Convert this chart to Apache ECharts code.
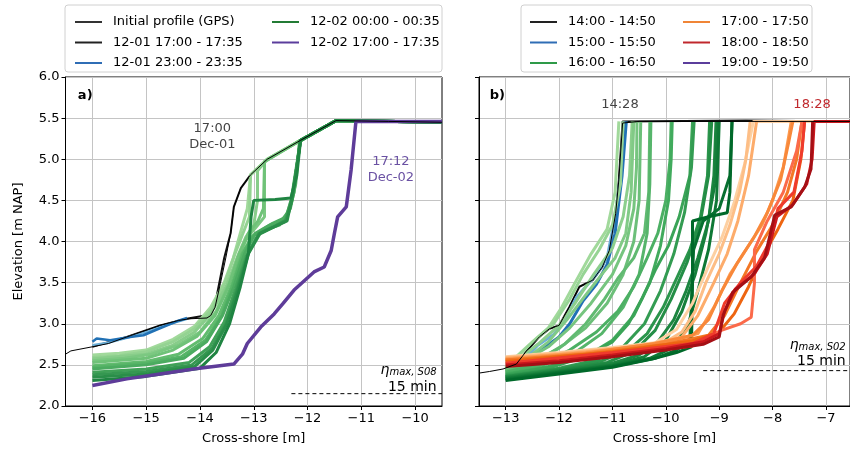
<!DOCTYPE html>
<html>
<head>
<meta charset="utf-8">
<script src="https://cdn.jsdelivr.net/npm/echarts@6/dist/echarts.min.js"></script>
<style>
html, body { margin: 0; padding: 0; background: #fff; }
#chart { width: 850px; height: 450px; }
</style>
</head>
<body>
<div id="chart"></div>
<script>
// ---- data ----
const yTicks = [2.0, 2.5, 3.0, 3.5, 4.0, 4.5, 5.0, 5.5, 6.0]
const xTicksA = [-16, -15, -14, -13, -12, -11, -10]
const xTicksB = [-13, -12, -11, -10, -9, -8, -7]

// panel a
const initialA = [[-16.5, 2.63], [-16.4, 2.67], [-16.0, 2.72], [-15.7, 2.76], [-15.36, 2.84], [-15.0, 2.92], [-14.74, 2.98], [-14.4, 3.04], [-14.2, 3.06], [-13.87, 3.07], [-13.8, 3.1], [-13.72, 3.2], [-13.62, 3.49], [-13.52, 3.8], [-13.43, 4.1], [-13.37, 4.42], [-13.24, 4.65], [-13.06, 4.81], [-12.75, 5.0], [-12.13, 5.23], [-11.47, 5.47], [-10.5, 5.46], [-9.5, 5.45]]
const dec01_1700 = [[-16, 2.72], [-15.36, 2.84], [-14.74, 2.98], [-14.25, 3.06], [-13.9, 3.1], [-13.7, 3.3], [-13.55, 3.8], [-13.43, 4.1], [-13.37, 4.42], [-13.24, 4.65], [-13.06, 4.81], [-12.75, 5.0], [-12.13, 5.23], [-11.47, 5.47], [-9.5, 5.45]]
const dec01_2300 = [
  [[-16, 2.74], [-15.7, 2.77], [-15.36, 2.83], [-15.0, 2.9], [-14.6, 2.99], [-14.24, 3.06]],
  [[-16, 2.78], [-15.92, 2.82], [-15.67, 2.8], [-15.3, 2.84], [-15.05, 2.86], [-14.8, 2.93], [-14.43, 3.03], [-14.24, 3.07]]
]
const dec02_0000 = [
  [[-16, 2.62], [-15.5, 2.64], [-15, 2.68], [-14.5, 2.81], [-14.1, 2.97], [-13.8, 3.2], [-13.55, 3.5], [-13.38, 3.8], [-13.25, 4.1], [-13.12, 4.4], [-13.06, 4.81], [-12.75, 5.0], [-12.13, 5.23], [-11.47, 5.47], [-9.5, 5.45]],
  [[-16, 2.59], [-15.5, 2.61], [-15, 2.66], [-14.5, 2.78], [-14.1, 2.94], [-13.78, 3.18], [-13.52, 3.52], [-13.35, 3.85], [-13.2, 4.1], [-13.08, 4.3], [-13.06, 4.81], [-12.75, 5.0], [-12.13, 5.23], [-11.47, 5.47], [-9.5, 5.45]],
  [[-16, 2.57], [-15, 2.63], [-14.5, 2.74], [-14.1, 2.9], [-13.8, 3.12], [-13.5, 3.47], [-13.3, 3.82], [-13.15, 4.05], [-13.0, 4.2], [-12.93, 4.5], [-12.93, 4.86], [-12.75, 5.0], [-12.13, 5.23], [-11.47, 5.47], [-9.5, 5.45]],
  [[-16, 2.55], [-15.4, 2.58], [-14.9, 2.63], [-14.4, 2.74], [-14.0, 2.9], [-13.7, 3.15], [-13.45, 3.5], [-13.28, 3.82], [-13.12, 4.05], [-12.95, 4.18], [-12.8, 4.3], [-12.8, 4.97], [-12.13, 5.23], [-11.47, 5.47], [-9.5, 5.45]],
  [[-16, 2.53], [-15, 2.58], [-14.5, 2.68], [-14.05, 2.85], [-13.72, 3.1], [-13.47, 3.45], [-13.27, 3.85], [-13.1, 4.1], [-12.92, 4.25], [-12.82, 4.4], [-12.8, 4.97], [-12.13, 5.23], [-11.47, 5.47], [-9.5, 5.45]],
  [[-16, 2.49], [-15, 2.54], [-14.4, 2.63], [-13.95, 2.82], [-13.65, 3.1], [-13.42, 3.45], [-13.22, 3.85], [-13.02, 4.07], [-12.75, 4.15], [-12.52, 4.2], [-12.4, 4.3], [-12.3, 4.5], [-12.2, 4.9], [-12.13, 5.23], [-11.47, 5.47], [-9.5, 5.45]],
  [[-16, 2.47], [-15, 2.52], [-14.35, 2.6], [-13.9, 2.8], [-13.6, 3.1], [-13.4, 3.45], [-13.2, 3.85], [-13.0, 4.08], [-12.7, 4.2], [-12.5, 4.25], [-12.35, 4.35], [-12.25, 4.6], [-12.14, 5.22], [-11.47, 5.47], [-9.5, 5.45]],
  [[-16, 2.45], [-15, 2.5], [-14.3, 2.58], [-13.88, 2.78], [-13.58, 3.1], [-13.37, 3.45], [-13.17, 3.85], [-12.97, 4.1], [-12.65, 4.22], [-12.45, 4.28], [-12.32, 4.4], [-12.22, 4.7], [-12.15, 5.22], [-11.47, 5.47], [-9.5, 5.45]],
  [[-16, 2.41], [-15, 2.45], [-14.2, 2.53], [-13.82, 2.72], [-13.55, 3.02], [-13.34, 3.42], [-13.14, 3.82], [-12.92, 4.08], [-12.62, 4.18], [-12.42, 4.24], [-12.3, 4.52], [-12.13, 5.23], [-11.47, 5.47], [-9.5, 5.45]],
  [[-16, 2.38], [-15, 2.42], [-14.15, 2.5], [-13.78, 2.7], [-13.52, 3.0], [-13.32, 3.4], [-13.12, 3.83], [-12.9, 4.1], [-12.58, 4.2], [-12.4, 4.26], [-12.29, 4.5], [-12.13, 5.23], [-11.47, 5.47], [-9.5, 5.45]],
  [[-16, 2.35], [-15, 2.39], [-14.1, 2.48], [-13.76, 2.68], [-13.5, 3.0], [-13.3, 3.4], [-13.1, 3.85], [-12.88, 4.1], [-12.55, 4.2], [-12.38, 4.25], [-12.28, 4.55], [-12.13, 5.23], [-11.47, 5.47], [-9.5, 5.45]],
  [[-16, 2.31], [-15, 2.36], [-14, 2.46], [-13.7, 2.65], [-13.45, 3.0], [-13.25, 3.45], [-13.1, 3.85], [-13.05, 4.3], [-13.0, 4.5], [-12.6, 4.51], [-12.31, 4.53], [-12.2, 4.8], [-12.13, 5.23], [-11.47, 5.47], [-9.5, 5.45]]
]
const dec02_1700 = [[-16, 2.25], [-15.36, 2.33], [-14.74, 2.39], [-14.12, 2.45], [-13.37, 2.51], [-13.21, 2.63], [-13.12, 2.76], [-12.87, 2.96], [-12.62, 3.12], [-12.45, 3.25], [-12.25, 3.41], [-11.88, 3.63], [-11.69, 3.69], [-11.56, 3.89], [-11.5, 4.1], [-11.44, 4.3], [-11.28, 4.42], [-11.19, 4.87], [-11.1, 5.46], [-9.5, 5.46]]
const etaA = [[-12.3, 2.15], [-9.5, 2.15]]

// panel b
const initialB = [[-13.5, 2.4], [-13.3, 2.42], [-13.05, 2.45], [-12.8, 2.51], [-12.61, 2.67], [-12.37, 2.84], [-12.18, 2.94], [-12.0, 2.98], [-11.81, 3.2], [-11.62, 3.45], [-11.37, 3.53], [-11.19, 3.69], [-11.06, 3.89], [-10.94, 4.34], [-10.88, 4.75], [-10.81, 5.44], [-10.5, 5.46], [-6.55, 5.46]]
const h14 = [[-13, 2.45], [-12.8, 2.52], [-12.6, 2.67], [-12.37, 2.84], [-12.18, 2.94], [-12.0, 2.98], [-11.81, 3.2], [-11.62, 3.45], [-11.37, 3.53], [-11.19, 3.69], [-11.06, 3.89], [-10.94, 4.34], [-10.88, 4.75], [-10.81, 5.46], [-8.5, 5.47], [-6.55, 5.46]]
const h15 = [
  [[-13, 2.46], [-12.6, 2.6], [-12.4, 2.74], [-12.1, 2.87], [-11.9, 3.03], [-11.7, 3.3], [-11.5, 3.45], [-11.3, 3.6], [-11.1, 3.8], [-10.95, 4.3], [-10.85, 4.8], [-10.78, 5.46]],
  [[-13, 2.44], [-12.5, 2.6], [-12.3, 2.7], [-12.0, 2.84], [-11.8, 3.0], [-11.55, 3.28], [-11.3, 3.48], [-11.1, 3.72], [-10.95, 4.1], [-10.82, 4.8], [-10.74, 5.46]]
]
const h16 = [
  [[-13, 2.47], [-12.8, 2.6], [-12.5, 2.78], [-12.2, 2.95], [-11.95, 3.2], [-11.7, 3.5], [-11.4, 3.85], [-11.1, 4.15], [-10.95, 4.6], [-10.88, 5.46]],
  [[-13, 2.46], [-12.75, 2.62], [-12.45, 2.8], [-12.1, 3.0], [-11.8, 3.3], [-11.55, 3.6], [-11.25, 3.9], [-11.0, 4.2], [-10.85, 4.7], [-10.8, 5.46]],
  [[-13, 2.45], [-12.7, 2.6], [-12.4, 2.75], [-12.0, 2.98], [-11.7, 3.25], [-11.35, 3.6], [-11.0, 3.92], [-10.8, 4.3], [-10.68, 4.8], [-10.63, 5.46]],
  [[-13, 2.44], [-12.6, 2.58], [-12.2, 2.78], [-11.85, 3.05], [-11.5, 3.35], [-11.2, 3.6], [-10.95, 3.8], [-10.75, 4.1], [-10.65, 4.6], [-10.6, 5.46]],
  [[-13, 2.43], [-12.6, 2.57], [-12.2, 2.72], [-11.8, 2.95], [-11.4, 3.25], [-11.0, 3.6], [-10.75, 3.95], [-10.6, 4.4], [-10.55, 4.9], [-10.54, 5.46]],
  [[-13, 2.42], [-12.5, 2.54], [-12.0, 2.7], [-11.5, 2.95], [-11.1, 3.25], [-10.8, 3.6], [-10.6, 4.0], [-10.5, 4.5], [-10.47, 5.46]],
  [[-13, 2.42], [-12.4, 2.55], [-11.9, 2.75], [-11.5, 3.0], [-11.15, 3.3], [-10.9, 3.55], [-10.6, 3.8], [-10.4, 4.1], [-10.32, 4.6], [-10.3, 5.46]],
  [[-13, 2.4], [-12.3, 2.5], [-11.7, 2.65], [-11.2, 2.88], [-10.8, 3.2], [-10.5, 3.6], [-10.35, 4.1], [-10.3, 4.7], [-10.28, 5.46]],
  [[-13, 2.41], [-12.3, 2.52], [-11.8, 2.68], [-11.3, 2.9], [-10.9, 3.15], [-10.6, 3.45], [-10.35, 3.8], [-10.15, 4.1], [-10.0, 4.5], [-9.92, 5.0], [-9.9, 5.46]],
  [[-13, 2.39], [-12.2, 2.48], [-11.5, 2.6], [-11.0, 2.8], [-10.6, 3.1], [-10.3, 3.5], [-10.1, 3.95], [-9.95, 4.5], [-9.9, 5.0], [-9.88, 5.46]],
  [[-13, 2.38], [-12.1, 2.48], [-11.5, 2.6], [-11.0, 2.78], [-10.7, 3.0], [-10.45, 3.3], [-10.2, 3.65], [-9.95, 3.95], [-9.75, 4.3], [-9.55, 4.8], [-9.5, 5.46]],
  [[-13, 2.37], [-12, 2.46], [-11.3, 2.56], [-10.8, 2.72], [-10.4, 3.0], [-10.1, 3.4], [-9.85, 3.85], [-9.65, 4.35], [-9.52, 4.9], [-9.47, 5.46]],
  [[-13, 2.36], [-12, 2.45], [-11.2, 2.55], [-10.7, 2.68], [-10.35, 2.88], [-10.05, 3.2], [-9.8, 3.55], [-9.55, 3.9], [-9.35, 4.3], [-9.22, 4.8], [-9.18, 5.46]],
  [[-13, 2.36], [-12, 2.44], [-11.1, 2.53], [-10.6, 2.66], [-10.2, 2.92], [-9.9, 3.3], [-9.6, 3.75], [-9.35, 4.25], [-9.2, 4.8], [-9.14, 5.46]],
  [[-13, 2.35], [-12, 2.43], [-11, 2.52], [-10.5, 2.62], [-10.15, 2.78], [-9.85, 3.05], [-9.62, 3.4], [-9.4, 3.8], [-9.2, 4.25], [-9.1, 4.8], [-9.06, 5.46]],
  [[-13, 2.34], [-12, 2.42], [-11, 2.5], [-10.4, 2.6], [-10.0, 2.8], [-9.7, 3.15], [-9.45, 3.6], [-9.25, 4.1], [-9.08, 4.7], [-9.03, 5.46]],
  [[-13, 2.33], [-12, 2.41], [-11, 2.49], [-10.3, 2.58], [-9.9, 2.7], [-9.6, 2.95], [-9.4, 3.4], [-9.2, 3.9], [-9.05, 4.5], [-9.0, 5.46]],
  [[-13, 2.32], [-12, 2.4], [-11, 2.48], [-10.2, 2.58], [-9.8, 2.68], [-9.55, 2.8], [-9.52, 3.3], [-9.48, 3.9], [-9.3, 4.25], [-9.0, 4.4], [-8.8, 4.8], [-8.76, 5.46]],
  [[-13, 2.31], [-12, 2.39], [-11, 2.47], [-10.26, 2.57], [-9.8, 2.65], [-9.52, 2.72], [-9.5, 3.5], [-9.5, 4.25], [-9.2, 4.3], [-8.85, 4.35], [-8.8, 4.6], [-8.76, 5.46]]
]
const h17 = [
  [[-13, 2.6], [-12, 2.65], [-11, 2.71], [-10.2, 2.77], [-9.8, 2.93], [-9.5, 3.25], [-9.2, 3.7], [-8.95, 4.05], [-8.72, 4.47], [-8.52, 4.95], [-8.36, 5.46], [-6.55, 5.46]],
  [[-13, 2.59], [-12, 2.64], [-10.8, 2.71], [-10.0, 2.78], [-9.7, 2.9], [-9.45, 3.15], [-9.25, 3.5], [-9.0, 3.85], [-8.8, 4.2], [-8.62, 4.6], [-8.5, 5.0], [-8.42, 5.46]],
  [[-13, 2.58], [-12, 2.63], [-10.5, 2.72], [-9.7, 2.84], [-9.4, 3.1], [-9.1, 3.5], [-8.85, 3.85], [-8.65, 4.25], [-8.45, 4.8], [-8.3, 5.46]],
  [[-13, 2.57], [-11.5, 2.65], [-10, 2.77], [-9.4, 2.88], [-9.1, 3.2], [-8.8, 3.6], [-8.5, 3.9], [-8.2, 4.2], [-8.0, 4.5], [-7.8, 4.9], [-7.65, 5.46]],
  [[-13, 2.56], [-11.5, 2.64], [-10.2, 2.76], [-9.5, 2.86], [-9.2, 3.05], [-8.95, 3.4], [-8.65, 3.75], [-8.35, 4.05], [-8.1, 4.35], [-7.85, 4.75], [-7.7, 5.2], [-7.62, 5.46]],
  [[-13, 2.56], [-11.5, 2.63], [-10, 2.75], [-9.2, 2.86], [-8.9, 3.1], [-8.6, 3.5], [-8.3, 3.88], [-8.0, 4.2], [-7.72, 4.6], [-7.55, 5.0], [-7.45, 5.46]],
  [[-13, 2.54], [-11, 2.66], [-9.5, 2.79], [-9.0, 2.9], [-8.72, 3.12], [-8.45, 3.45], [-8.2, 3.8], [-7.9, 4.15], [-7.62, 4.5], [-7.47, 5.0], [-7.4, 5.46]]
]
const h18 = [
  [[-13, 2.52], [-11, 2.62], [-9.5, 2.73], [-8.96, 2.92], [-8.6, 3.0], [-8.4, 3.08], [-8.34, 3.49], [-8.34, 3.9], [-8.1, 4.25], [-7.8, 4.6], [-7.55, 5.1], [-7.45, 5.46]],
  [[-13, 2.52], [-11, 2.65], [-9.5, 2.76], [-9.1, 2.88], [-8.9, 3.25], [-8.6, 3.5], [-8.3, 3.7], [-8.05, 4.0], [-7.9, 4.4], [-7.6, 4.6], [-7.45, 5.1], [-7.4, 5.46]],
  [[-13, 2.5], [-12, 2.55], [-11, 2.62], [-10, 2.7], [-9.3, 2.78], [-9.0, 2.88], [-8.9, 3.15], [-8.7, 3.42], [-8.35, 3.6], [-8.1, 3.85], [-7.92, 4.3], [-7.62, 4.45], [-7.36, 4.7], [-7.26, 5.0], [-7.22, 5.46], [-6.55, 5.46]],
  [[-13, 2.48], [-12, 2.53], [-11, 2.6], [-10, 2.68], [-9.3, 2.75], [-9.0, 2.84], [-8.93, 3.1], [-8.75, 3.38], [-8.4, 3.57], [-8.15, 3.8], [-7.96, 4.32], [-7.65, 4.42], [-7.4, 4.66], [-7.28, 4.88], [-7.25, 5.46]]
]
const h19 = []
const etaB = [[-9.3, 2.43], [-6.55, 2.43]]

// ---- styling ----
const FONT = 'DejaVu Sans'
function hex2rgb (h) { return [1, 3, 5].map(i => parseInt(h.substr(i, 2), 16)) }
// colour ramp through stops, n colours (styling only)
function ramp (stops, n) {
  const out = []
  for (let i = 0; i < n; i++) {
    const t = n === 1 ? 0 : i / (n - 1) * (stops.length - 1)
    const k = Math.min(Math.floor(t), stops.length - 2)
    const f = t - k
    const a = hex2rgb(stops[k])
    const b = hex2rgb(stops[k + 1])
    out.push('rgb(' + a.map((v, j) => Math.round(v + (b[j] - v) * f)).join(',') + ')')
  }
  return out
}
const greensA = ramp(['#a1d99b', '#5cb96b', '#1f8442'], dec02_0000.length)
const greensB = ramp(['#a1d99b', '#41ab5d', '#00692a'], h16.length)
const oranges = ramp(['#fdd0a2', '#fd9a4f', '#ee6511'], h17.length)
const reds = ['#fb6a4a', '#ef3b2c', '#cb181d', '#a50f15']
const blues = ['#6baed6', '#2171b5']

const chart = echarts.init(document.getElementById('chart'))

function prof (name, data, color, width, ax, z) {
  return {
    type: 'line',
    name: name,
    data: data,
    xAxisIndex: ax,
    yAxisIndex: ax,
    symbol: 'none',
    showSymbol: false,
    silent: true,
    z: z || 2,
    lineStyle: { color: color, width: width },
    itemStyle: { color: color }
  }
}

const series = []
// panel a
series.push(prof('12-01 17:00 - 17:35', dec01_1700, '#111', 2, 0))
dec01_2300.forEach((p, i) => series.push(prof('12-01 23:00 - 23:35', p, blues[i], 2.5, 0)))
dec02_0000.forEach((p, i) => series.push(prof('12-02 00:00 - 00:35', p, greensA[i], 3, 0)))
series.push(prof('12-02 17:00 - 17:35', dec02_1700, '#5e3c99', 3.5, 0, 3))
series.push(prof('Initial profile (GPS)', initialA, '#000', 1, 0, 4))
series.push({ type: 'line', data: etaA, xAxisIndex: 0, yAxisIndex: 0, symbol: 'none', silent: true, lineStyle: { color: '#000', width: 1, type: [4, 3] } })
// panel b
series.push(prof('14:00 - 14:50', h14, '#111', 2, 1))
h15.forEach((p, i) => series.push(prof('15:00 - 15:50', p, blues[i], 3, 1)))
h16.forEach((p, i) => series.push(prof('16:00 - 16:50', p, greensB[i], 3, 1)))
h17.forEach((p, i) => series.push(prof('17:00 - 17:50', p, oranges[i], 3, 1)))
h18.forEach((p, i) => series.push(prof('18:00 - 18:50', p, reds[i], 3, 1)))
series.push(prof('19:00 - 19:50', h19, '#54278f', 3, 1))
series.push(prof('Initial profile (GPS)', initialB, '#000', 1, 1, 4))
series.push({ type: 'line', data: etaB, xAxisIndex: 1, yAxisIndex: 1, symbol: 'none', silent: true, lineStyle: { color: '#000', width: 1, type: [4, 3] } })

const minusFmt = v => (v < 0 ? '\u2212' : '') + Math.abs(v)

function xAxis (gi, min, max, ticks) {
  return {
    type: 'value', gridIndex: gi, min: min, max: max,
    name: 'Cross-shore [m]', nameLocation: 'middle', nameGap: 26,
    nameTextStyle: { fontFamily: FONT, fontSize: 13, color: '#000' },
    axisLine: { lineStyle: { color: '#000' } },
    axisTick: { show: true, length: 4, customValues: ticks, lineStyle: { color: '#000' } },
    axisLabel: { customValues: ticks, formatter: minusFmt, fontFamily: FONT, fontSize: 13, color: '#000', margin: 6 },
    splitLine: { show: true, lineStyle: { color: '#c4c4c4', width: 1 } }
  }
}
function yAxis (gi, labels) {
  return {
    type: 'value', gridIndex: gi, min: yTicks[0], max: yTicks[yTicks.length - 1], interval: 0.5,
    name: labels ? 'Elevation [m NAP]' : '', nameLocation: 'middle', nameGap: 40,
    nameTextStyle: { fontFamily: FONT, fontSize: 13, color: '#000' },
    axisLine: { show: true, lineStyle: { color: '#000' } },
    axisTick: { show: true, length: 4, lineStyle: { color: '#000' } },
    axisLabel: { show: labels, formatter: v => v.toFixed(1), fontFamily: FONT, fontSize: 13, color: '#000', margin: 6 },
    splitLine: { show: true, lineStyle: { color: '#c4c4c4', width: 1 } }
  }
}

const legendBase = {
  orient: 'vertical', top: 10, itemWidth: 27, itemHeight: 2, itemGap: 6.5, icon: 'rect',
  selectedMode: false, z: 6,
  textStyle: { fontFamily: FONT, fontSize: 13, color: '#000', lineHeight: 14, padding: [0, 0, 0, 6] }
}
const li = (name, color) => ({ name: name, itemStyle: { color: color } })

chart.setOption({
  animation: false,
  backgroundColor: '#fff',
  grid: [
    { left: 65.5, top: 77, width: 376.5, height: 329, show: true, borderColor: '#000', borderWidth: 1 },
    { left: 479, top: 77, width: 373, height: 329, show: true, borderColor: '#000', borderWidth: 1 }
  ],
  xAxis: [xAxis(0, -16.5, -9.5, xTicksA), xAxis(1, -13.5, -6.55, xTicksB)],
  yAxis: [yAxis(0, true), yAxis(1, false)],
  legend: [
    Object.assign({}, legendBase, { left: 70, data: [li('Initial profile (GPS)', '#333'), li('12-01 17:00 - 17:35', '#222'), li('12-01 23:00 - 23:35', '#2f6db5')] }),
    Object.assign({}, legendBase, { left: 267, data: [li('12-02 00:00 - 00:35', '#237b35'), li('12-02 17:00 - 17:35', '#5b3d9c')] }),
    Object.assign({}, legendBase, { left: 525, data: [li('14:00 - 14:50', '#222'), li('15:00 - 15:50', '#2f6db5'), li('16:00 - 16:50', '#2e9a48')] }),
    Object.assign({}, legendBase, { left: 678, data: [li('17:00 - 17:50', '#f08536'), li('18:00 - 18:50', '#c0282d'), li('19:00 - 19:50', '#5b3d9c')] })
  ],
  series: series
})

// annotations placed in data coordinates
const pa = xy => chart.convertToPixel({ xAxisIndex: 0, yAxisIndex: 0 }, xy)
const pb = xy => chart.convertToPixel({ xAxisIndex: 1, yAxisIndex: 1 }, xy)
function txt (p, text, opts) {
  return {
    type: 'text', x: p[0], y: p[1], z: 10,
    style: Object.assign({ text: text, fontFamily: FONT, fontSize: 13, fill: '#000', align: 'center', verticalAlign: 'middle' }, opts || {})
  }
}
const etaRich = { e: { fontFamily: FONT, fontSize: 14, fontStyle: 'italic' }, s: { fontFamily: FONT, fontSize: 10, fontStyle: 'italic', padding: [4, 0, 0, 0] } }

chart.setOption({
  graphic: [
    { type: 'rect', z: 1, shape: { x: 65, y: 5, width: 377, height: 67, r: 3 }, style: { fill: '#fff', stroke: '#d0d0d0', lineWidth: 1 } },
    { type: 'rect', z: 1, shape: { x: 521, y: 5, width: 291, height: 67, r: 3 }, style: { fill: '#fff', stroke: '#d0d0d0', lineWidth: 1 } },
    txt(pa([-16.27, 5.77]), 'a)', { align: 'left', fontWeight: 'bold' }),
    txt(pa([-13.77, 5.27]), '17:00\nDec-01', { fill: '#444', lineHeight: 16 }),
    txt(pa([-10.45, 4.87]), '17:12\nDec-02', { fill: '#6a51a3', lineHeight: 16 }),
    txt(pa([-9.6, 2.43]), '{e|η}{s|max, S08}', { align: 'right', rich: etaRich }),
    txt(pa([-9.6, 2.23]), '15 min', { align: 'right', fontSize: 14 }),
    txt(pb([-13.3, 5.77]), 'b)', { align: 'left', fontWeight: 'bold' }),
    txt(pb([-10.86, 5.67]), '14:28', { fill: '#444' }),
    txt(pb([-7.26, 5.67]), '18:28', { fill: '#c0282d' }),
    txt(pb([-6.63, 2.74]), '{e|η}{s|max, S02}', { align: 'right', rich: etaRich }),
    txt(pb([-6.63, 2.54]), '15 min', { align: 'right', fontSize: 14 })
  ]
})
</script>
</body>
</html>
